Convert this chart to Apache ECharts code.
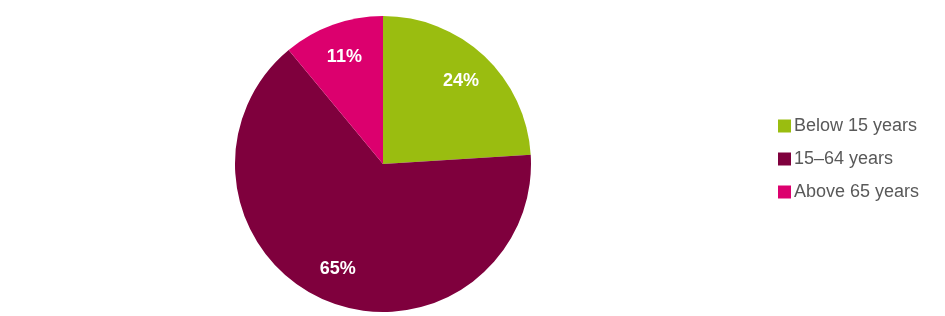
<!DOCTYPE html>
<html><head><meta charset="utf-8">
<style>html,body{margin:0;padding:0;background:#fff}#c{width:945px;height:316px}</style>
<script src="https://cdn.jsdelivr.net/npm/echarts@6/dist/echarts.min.js"></script>
</head><body><div id="c"></div>
<script>
const categories = ['Below 15 years', '15\u201364 years', 'Above 65 years'];
const values = [24, 65, 11];
const colors = ['#9ABD10', '#7F003D', '#DC006E'];

const data = categories.map((n, i) => ({ name: n, value: values[i], itemStyle: { color: colors[i] } }));
const chart = echarts.init(document.getElementById('c'), null, { renderer: 'canvas' });
const R = 148;
chart.setOption({
  animation: false,
  legend: {
    orient: 'vertical', left: 773, top: 112, itemWidth: 13, itemHeight: 13, itemGap: 15,
    icon: 'rect',
    textStyle: { fontFamily: 'Liberation Sans, Arial, sans-serif', fontSize: 18, color: '#595959', padding: [0, 0, 0, -2] },
    data: categories
  },
  series: [
    {
      type: 'pie', center: [383, 164], radius: [0, R], startAngle: 90, clockwise: true,
      label: { show: false }, labelLine: { show: false }, silent: true,
      itemStyle: { borderWidth: 0 },
      data: data
    },
    {
      type: 'pie', center: [383, 164], radius: [R * 0.5, R], startAngle: 90, clockwise: true,
      silent: true, labelLine: { show: false },
      itemStyle: { color: 'rgba(0,0,0,0)', borderWidth: 0 },
      label: { show: true, position: 'inside', formatter: '{c}%', color: '#fff', fontWeight: 'bold',
               fontSize: 18, fontFamily: 'Liberation Sans, Arial, sans-serif' },
      data: categories.map((n, i) => ({ name: n, value: values[i] }))
    }
  ]
});
</script></body></html>
